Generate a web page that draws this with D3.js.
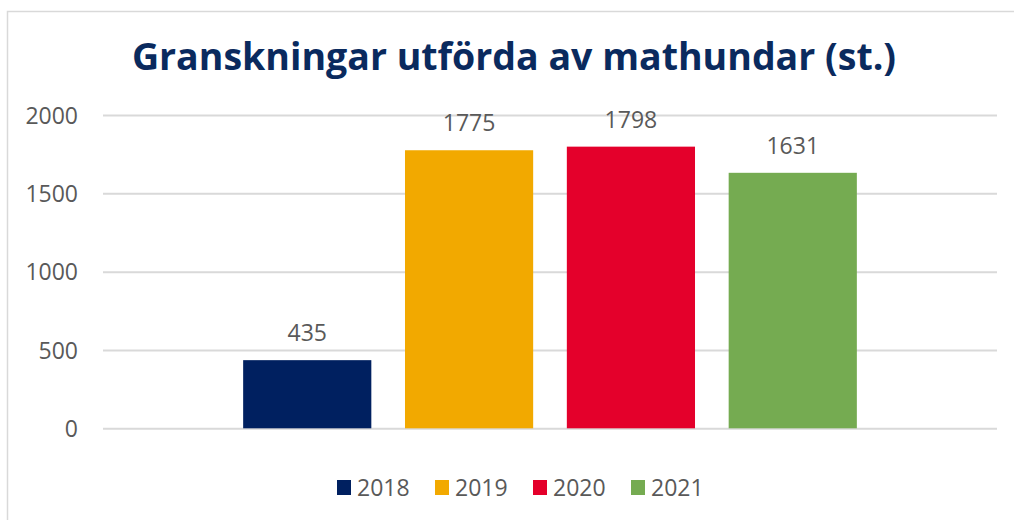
<!DOCTYPE html>
<html lang="sv">
<head>
<meta charset="UTF-8">
<title>Granskningar utförda av mathundar</title>
<script src="https://d3js.org/d3.v7.min.js"></script>
<style>
  body {
    margin: 0;
    background: #ffffff;
  }
  svg text {
    font-family: "Open Sans", "Noto Sans", sans-serif;
  }
</style>
</head>
<body>
<svg id="chart" width="1014" height="520"></svg>
<script>
// chart data
const years = ["2018", "2019", "2020", "2021"];
const counts = [435, 1775, 1798, 1631];
const yTicks = [0, 500, 1000, 1500, 2000];
const colors = ["#002060", "#F2A900", "#E4002B", "#75AB51"];

const svg = d3.select("#chart");

// outer chart frame
svg.append("rect")
    .attr("x", 7.5)
    .attr("y", 11.5)
    .attr("width", 1030)
    .attr("height", 540)
    .attr("fill", "none")
    .attr("stroke", "#d9d9d9")
    .attr("stroke-width", 1.5);

const plot = { left: 103, right: 997, top: 115, bottom: 428.3 };

const x = d3.scaleBand()
    .domain(years)
    .range([plot.left, plot.right])
    .paddingInner(0.208)
    .paddingOuter(0.866);

const y = d3.scaleLinear()
    .domain([0, 2000])
    .range([plot.bottom, plot.top]);

// title
svg.append("text")
    .attr("x", 514)
    .attr("y", 70)
    .attr("text-anchor", "middle")
    .attr("font-size", 37.5)
    .attr("font-weight", "bold")
    .attr("fill", "#0a2a5e")
    .text("Granskningar utförda av mathundar (st.)");

// gridlines + y labels
const yAxis = d3.axisLeft(y)
    .tickValues(yTicks)
    .tickSize(-(plot.right - plot.left))
    .tickPadding(25)
    .tickFormat(d3.format("d"));

const gy = svg.append("g")
    .attr("transform", `translate(${plot.left},0)`)
    .call(yAxis);
gy.select(".domain").remove();
gy.selectAll(".tick line")
    .attr("stroke", "#d9d9d9")
    .attr("stroke-width", 2);
gy.selectAll(".tick text")
    .attr("fill", "#595959")
    .attr("font-size", 23)
    .attr("dy", "0.36em");

// bars
const data = years.map((yr, i) => ({ year: yr, value: counts[i], color: colors[i] }));

svg.append("g")
    .selectAll("rect")
    .data(data)
    .join("rect")
    .attr("x", d => x(d.year))
    .attr("y", d => y(d.value))
    .attr("width", x.bandwidth())
    .attr("height", d => y(0) - y(d.value))
    .attr("fill", d => d.color);

// value labels
svg.append("g")
    .selectAll("text")
    .data(data)
    .join("text")
    .attr("x", d => x(d.year) + x.bandwidth() / 2)
    .attr("y", d => y(d.value) - 19)
    .attr("text-anchor", "middle")
    .attr("font-size", 23)
    .attr("fill", "#595959")
    .text(d => d.value);

// legend
const legend = svg.append("g")
    .attr("transform", "translate(337,480)");

const item = legend.selectAll("g")
    .data(data)
    .join("g")
    .attr("transform", (d, i) => `translate(${i * 98},0)`);

item.append("rect")
    .attr("width", 14)
    .attr("height", 15)
    .attr("fill", d => d.color);

item.append("text")
    .attr("x", 20)
    .attr("y", 15.5)
    .attr("font-size", 23)
    .attr("fill", "#595959")
    .text(d => d.year);
</script>
</body>
</html>
